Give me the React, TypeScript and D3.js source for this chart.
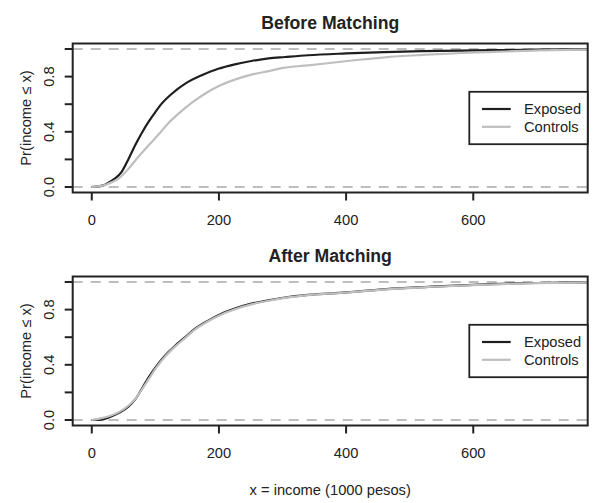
import React from "react";
import * as d3 from "d3";

// ---- data ----
const xTicks = [0, 200, 400, 600];
const yTicks = [0, 0.2, 0.4, 0.6, 0.8, 1.0];
const yTickLabels = ["0.0", "", "0.4", "", "0.8", ""];
const panelTitles = ["Before Matching", "After Matching"];
const seriesNames = ["Exposed", "Controls"];

const beforeExposedX = [0, 10, 20, 26, 36, 47, 58, 68, 78, 89, 100, 110, 126, 147, 173, 199, 225, 251, 278, 304, 340, 400, 460, 520, 600, 700, 780];
const beforeExposedP = [0, 0.005, 0.015, 0.03, 0.06, 0.11, 0.205, 0.3, 0.386, 0.47, 0.543, 0.604, 0.676, 0.749, 0.81, 0.857, 0.889, 0.913, 0.932, 0.942, 0.955, 0.968, 0.978, 0.985, 0.99, 0.995, 0.998];

const beforeControlsX = [0, 10, 26, 42, 58, 73, 89, 105, 120, 136, 157, 178, 199, 225, 251, 278, 304, 340, 371, 420, 461, 520, 583, 650, 704, 780];
const beforeControlsP = [0, 0.004, 0.024, 0.06, 0.133, 0.217, 0.3, 0.38, 0.46, 0.53, 0.61, 0.676, 0.73, 0.778, 0.814, 0.84, 0.865, 0.882, 0.897, 0.922, 0.94, 0.957, 0.971, 0.982, 0.99, 0.995];

const afterExposedX = [0, 16, 26, 42, 58, 68, 78, 89, 100, 115, 131, 147, 162, 183, 204, 225, 251, 278, 304, 340, 400, 463, 530, 600, 700, 780];
const afterExposedP = [0, 0.002, 0.017, 0.05, 0.098, 0.147, 0.22, 0.306, 0.379, 0.465, 0.538, 0.6, 0.66, 0.72, 0.77, 0.807, 0.843, 0.868, 0.888, 0.907, 0.925, 0.949, 0.965, 0.98, 0.993, 0.998];

const afterControlsX = [0, 10, 26, 42, 58, 68, 80, 90, 100, 115, 131, 147, 162, 183, 204, 225, 251, 278, 304, 340, 400, 463, 530, 600, 700, 780];
const afterControlsP = [0, 0.008, 0.025, 0.055, 0.105, 0.15, 0.23, 0.3, 0.37, 0.458, 0.532, 0.595, 0.655, 0.716, 0.765, 0.802, 0.838, 0.864, 0.885, 0.905, 0.924, 0.947, 0.964, 0.978, 0.992, 0.997];

const panels = [
  { title: panelTitles[0], series: [[beforeExposedX, beforeExposedP], [beforeControlsX, beforeControlsP]] },
  { title: panelTitles[1], series: [[afterExposedX, afterExposedP], [afterControlsX, afterControlsP]] },
];

const W = 601;
const H = 503;
const FONT = "'Liberation Sans', Arial, Helvetica, sans-serif";
const BASE = 14.7;
const seriesColors = ["#1e1e1e", "#bebebe"];
const INK = "#222";

const left = 72.7;
const right = 587.7;
const boxH = 149;
const panelTop = [43.5, 276.5];

const x = d3.scaleLinear().domain([-30, 780]).range([left, right]);

function Panel({ idx }: { idx: number }) {
  const p = panels[idx];
  const top = panelTop[idx];
  const bottom = top + boxH;
  const y = d3.scaleLinear().domain([-0.04, 1.04]).range([bottom, top]);
  const line = d3
    .line<[number, number]>()
    .x((d) => x(d[0]))
    .y((d) => y(d[1]))
    .curve(d3.curveMonotoneX);
  const clipId = `clip${idx}`;
  const cy = (top + bottom) / 2;
  const legTop = cy - 26.2;
  const legBottom = cy + 26.2;
  const legLeft = 469.3;
  const rows = [cy - 9, cy + 8.8];
  return (
    <g>
      <defs>
        <clipPath id={clipId}>
          <rect x={left} y={top} width={right - left} height={bottom - top} />
        </clipPath>
      </defs>
      <text x={(left + right) / 2} y={top - 14.2} textAnchor="middle" fontFamily={FONT} fontWeight="bold" fontSize={BASE * 1.2} fill={INK}>
        {p.title}
      </text>
      {[0, 1].map((v) => (
        <line key={v} x1={left} x2={right} y1={y(v)} y2={y(v)} stroke="#bebebe" strokeWidth={2} strokeDasharray="10 8" />
      ))}
      <g clipPath={`url(#${clipId})`}>
        {p.series.map((s, i) => {
          const pts: [number, number][] = s[0].map((xv, j) => [xv, s[1][j]]);
          return <path key={i} d={line(pts) || ""} fill="none" stroke={seriesColors[i]} strokeWidth={2.2} />;
        })}
      </g>
      <rect x={left} y={top} width={right - left} height={bottom - top} fill="none" stroke={INK} strokeWidth={2} />
      {xTicks.map((t) => (
        <g key={t}>
          <line x1={x(t)} x2={x(t)} y1={bottom} y2={bottom + 8} stroke={INK} strokeWidth={2} />
          <text x={x(t)} y={bottom + 32.8} textAnchor="middle" fontFamily={FONT} fontSize={BASE} fill={INK}>
            {t}
          </text>
        </g>
      ))}
      {yTicks.map((t, i) => (
        <g key={t}>
          <line x1={left - 8} x2={left} y1={y(t)} y2={y(t)} stroke={INK} strokeWidth={2} />
          {yTickLabels[i] && (
            <text x={54.5} y={y(t)} transform={`rotate(-90, 54.5, ${y(t)})`} textAnchor="middle" fontFamily={FONT} fontSize={BASE} fill={INK}>
              {yTickLabels[i]}
            </text>
          )}
        </g>
      ))}
      <text x={31} y={cy} transform={`rotate(-90, 31, ${cy})`} textAnchor="middle" fontFamily={FONT} fontSize={BASE} fill={INK}>
        Pr(income ≤ x)
      </text>
      <rect x={legLeft} y={legTop} width={right - legLeft} height={legBottom - legTop} fill="#fff" stroke={INK} strokeWidth={1.8} />
      {seriesNames.map((n, i) => (
        <g key={n}>
          <line x1={482} x2={510.7} y1={rows[i]} y2={rows[i]} stroke={seriesColors[i]} strokeWidth={2.2} />
          <text x={524} y={rows[i] + 5.2} fontFamily={FONT} fontSize={BASE} fill={INK}>
            {n}
          </text>
        </g>
      ))}
    </g>
  );
}

export default function App() {
  return (
    <svg width={W} height={H} style={{ position: "absolute", left: 0, top: 0, background: "#fff" }}>
      <rect width={W} height={H} fill="#fff" />
      <Panel idx={0} />
      <Panel idx={1} />
      <text x={(left + right) / 2} y={495} textAnchor="middle" fontFamily={FONT} fontSize={BASE} fill={INK}>
        x = income (1000 pesos)
      </text>
    </svg>
  );
}
